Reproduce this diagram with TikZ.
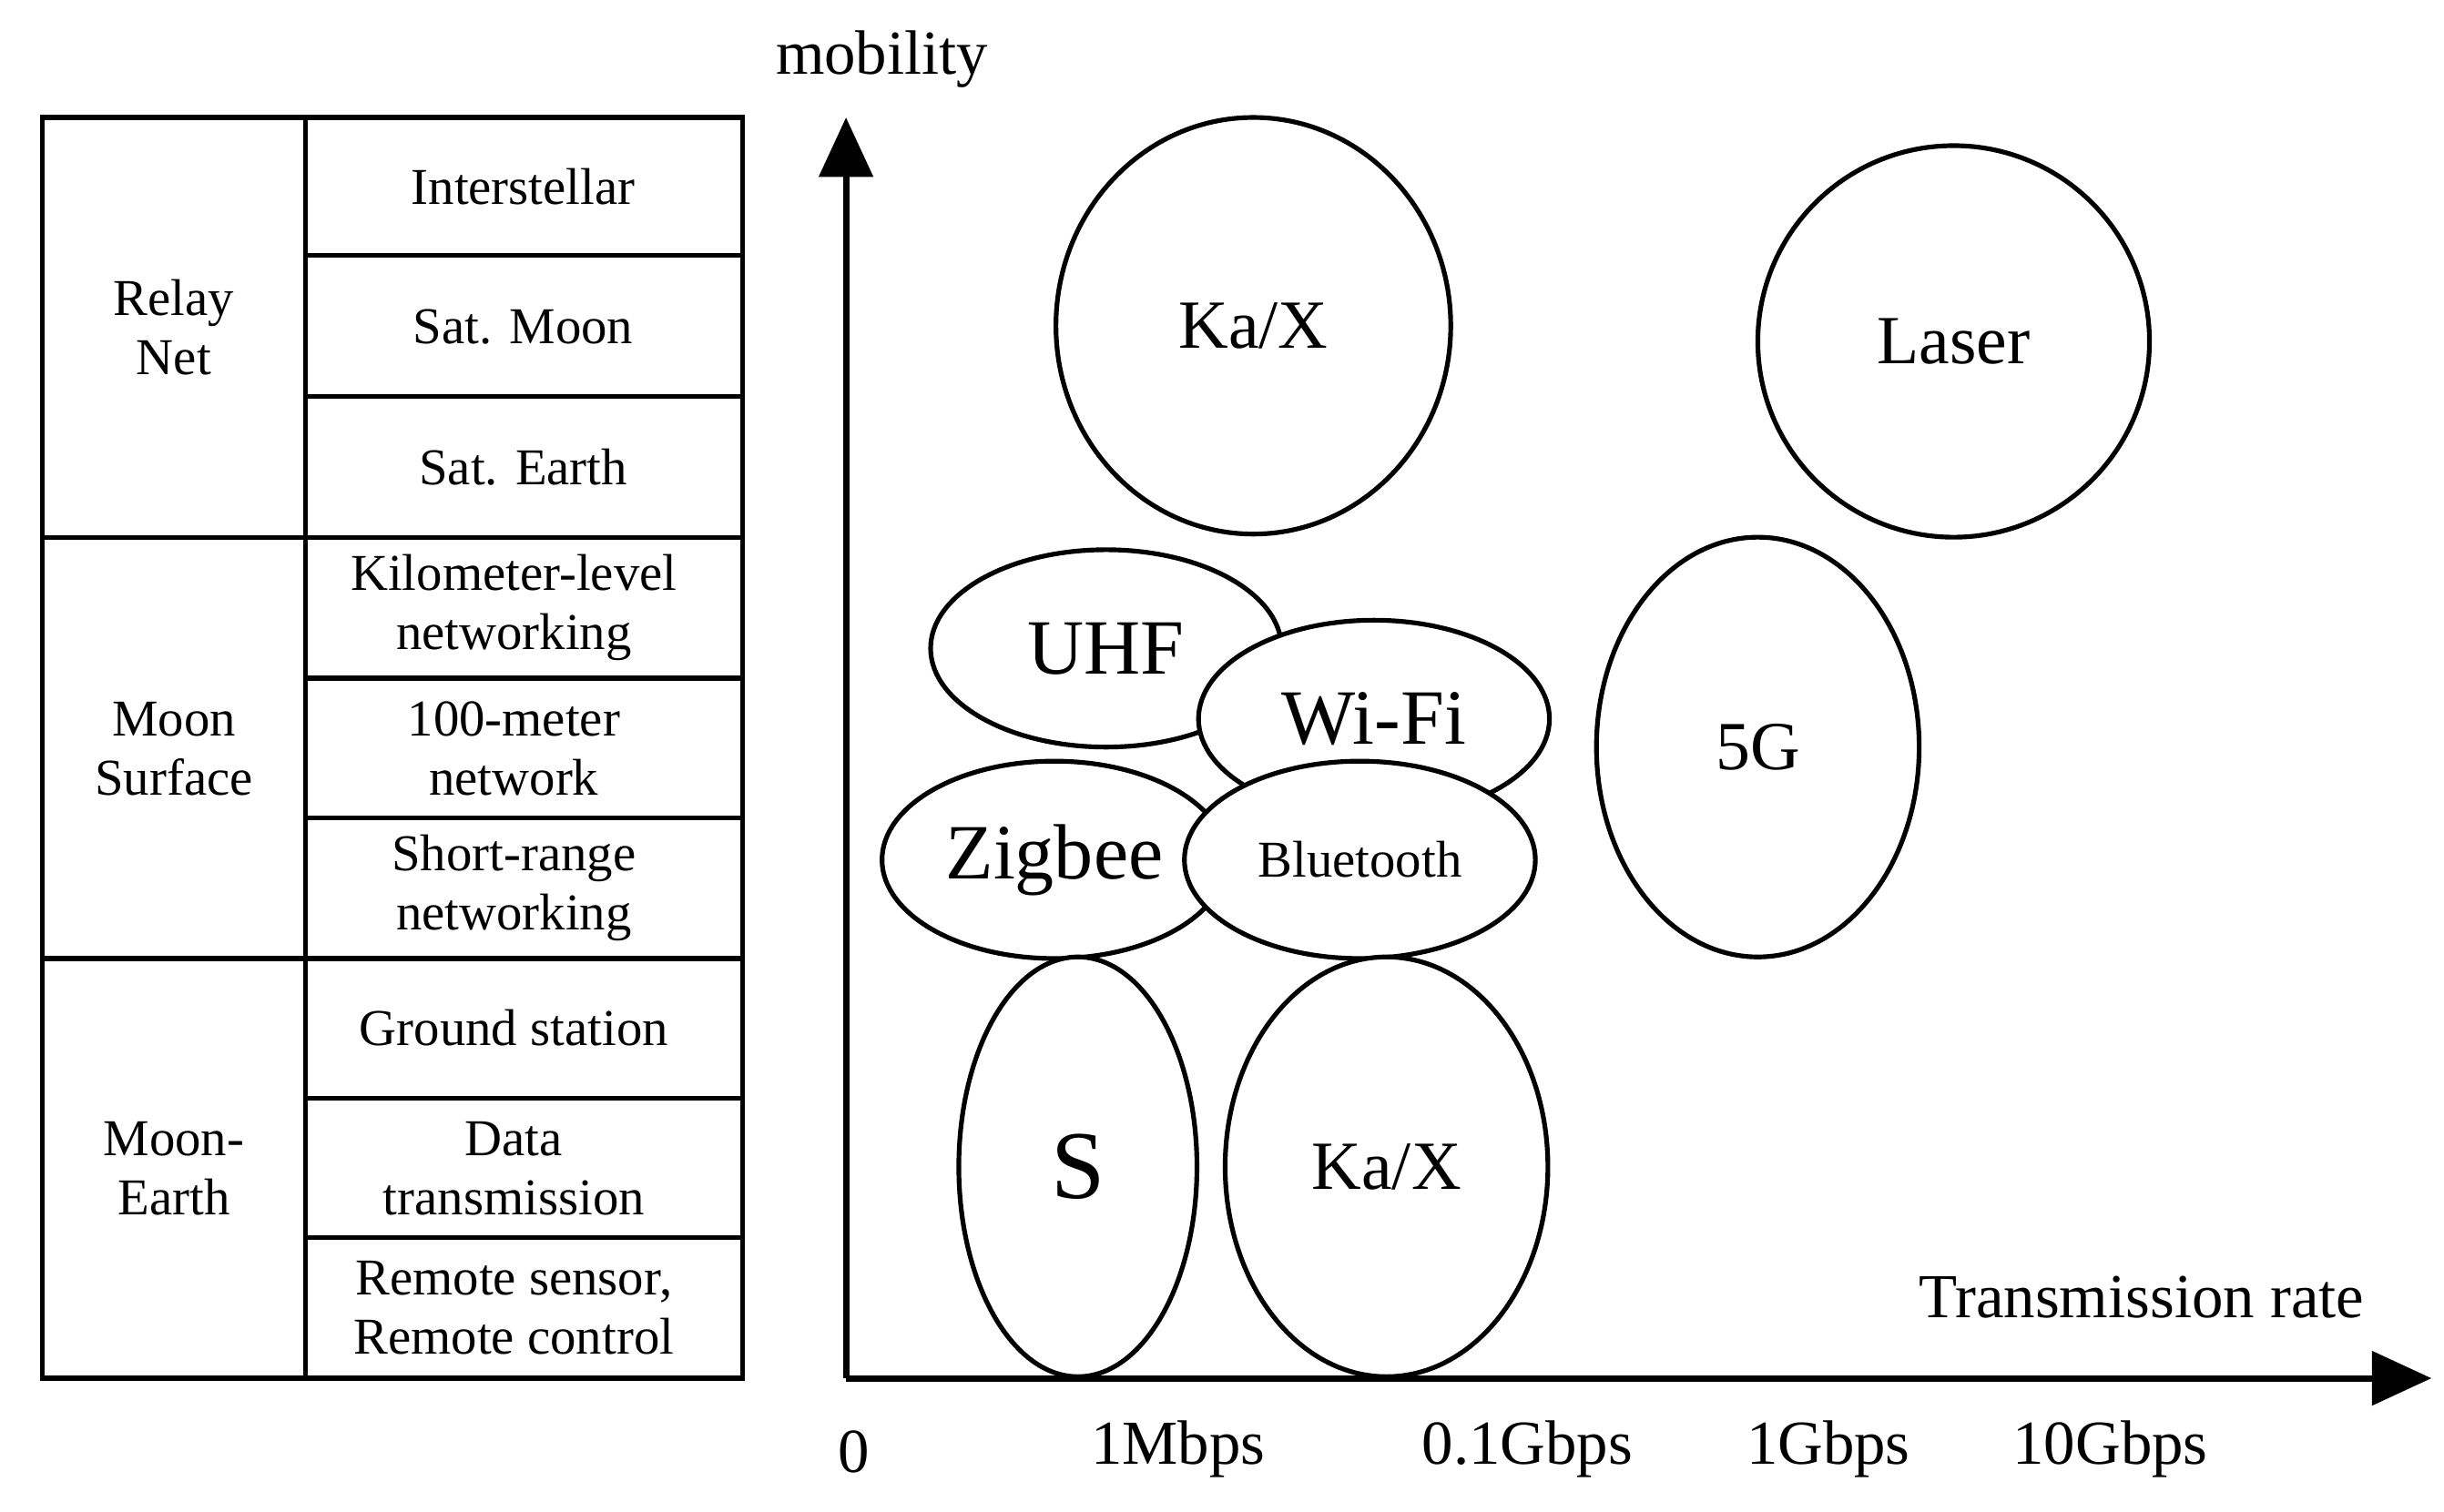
\documentclass[tikz,border=0pt]{standalone}
\usepackage{fontspec}
\setmainfont{Liberation Serif}
\usetikzlibrary{shapes.geometric,arrows.meta}
\begin{document}
\begin{tikzpicture}[x=1pt,y=-1pt,
  tline/.style={line width=3pt},
  ell/.style={ellipse,draw,line width=3pt,fill=white,inner sep=0pt},
  ttxt/.style={font=\fontsize{33}{38}\selectfont,align=center},
  lbl/.style={font=\fontsize{40}{44}\selectfont}]
\useasboundingbox (0,0) rectangle (1560,965);
% table
\draw[tline] (27,75) rectangle (474,880);
\draw[tline] (195,75) -- (195,880);
\foreach \y in {163,253,433,522,701,790} \draw[tline] (195,\y) -- (474,\y);
\foreach \y in {343,612} \draw[tline] (27,\y) -- (474,\y);
\node[ttxt] (g1) at (111,209) {Relay\\Net};
\node[ttxt] (g2) at (111,478) {Moon\\Surface};
\node[ttxt] (g3) at (111,746) {Moon-\\Earth};
\node[ttxt] (r1) at (334,119) {Interstellar};
\node[ttxt] (r2) at (334,209) {Sat. Moon};
\node[ttxt] (r3) at (334,298) {Sat. Earth};
\node[ttxt] (r4) at (328,388) {Kilometer-level\\networking};
\node[ttxt] (r5) at (328,478) {100-meter\\network};
\node[ttxt] (r6) at (328,567) {Short-range\\networking};
\node[ttxt] (r7) at (328,656) {Ground station};
\node[ttxt] (r8) at (328,746) {Data\\transmission};
\node[ttxt] (r9) at (328,835) {Remote sensor,\\Remote control};
% axes
\coordinate (o) at (540,880);
\coordinate (ytop) at (540,75);
\coordinate (xend) at (1552,880);
\draw[line width=4pt,-{Triangle[length=38pt,width=34pt]}] (o) -- (ytop);
\draw[line width=4pt,-{Triangle[length=38pt,width=34pt]}] (o) -- (xend);
\node[lbl] (my) at (563,38) {mobility};
\node[lbl] (tr) at (1367,828) {Transmission rate};
\node[lbl] (t0) at (545,927) {0};
\node[lbl] (t1) at (752,925) {1Mbps};
\node[lbl] (t2) at (975,925) {0.1Gbps};
\node[lbl] (t3) at (1167,925) {1Gbps};
\node[lbl] (t4) at (1347,925) {10Gbps};
% ellipses
\node[ell,minimum width=252pt,minimum height=266pt,font=\fontsize{44}{44}\selectfont] (kx1) at (800,208) {Ka/X};
\node[ell,minimum width=250pt,minimum height=250pt,font=\fontsize{44}{44}\selectfont] (la) at (1247,218) {Laser};
\node[ell,minimum width=224pt,minimum height=126pt,font=\fontsize{50}{50}\selectfont] (uhf) at (706,414) {UHF};
\node[ell,minimum width=224pt,minimum height=126pt,font=\fontsize{50}{50}\selectfont] (wifi) at (877,459) {Wi-Fi};
\node[ell,minimum width=206pt,minimum height=268pt,font=\fontsize{44}{44}\selectfont] (g5) at (1122,477) {5G};
\node[ell,minimum width=220pt,minimum height=126pt,font=\fontsize{50}{50}\selectfont] (zb) at (673,549) {Zigbee};
\node[ell,minimum width=224pt,minimum height=126pt,font=\fontsize{33}{33}\selectfont] (bt) at (868,549) {Bluetooth};
\node[ell,minimum width=152pt,minimum height=268pt,font=\fontsize{62}{62}\selectfont] (s) at (688,745) {S};
\node[ell,minimum width=206pt,minimum height=268pt,font=\fontsize{44}{44}\selectfont] (kx2) at (885,745) {Ka/X};
\end{tikzpicture}
\end{document}
